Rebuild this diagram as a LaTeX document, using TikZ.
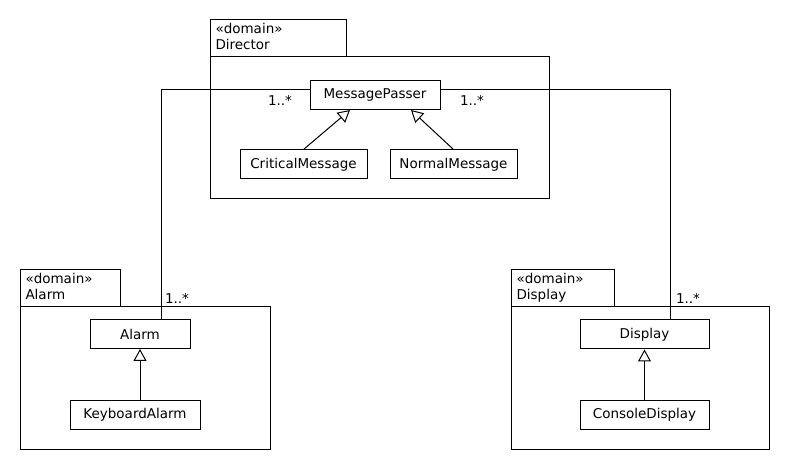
\documentclass[tikz,border=0pt]{standalone}
\usepackage{fontspec}
\setmainfont{DejaVu Sans}
\usetikzlibrary{arrows.meta,calc}
\tikzset{
	cls/.style={draw, line width=1pt, minimum height=29pt, inner sep=0pt, font=\fontsize{13.5}{15}\selectfont},
	pkglabel/.style={anchor=north west, align=left, inner sep=0pt, font=\fontsize{13.5}{15.5}\selectfont},
	mult/.style={inner sep=0pt, font=\fontsize{13.5}{15}\selectfont},
	inherit/.style={line width=1pt, -{Triangle[open, length=12pt, width=13pt]}},
}

\begin{document}
\begin{tikzpicture}[x=1pt, y=-1pt, line width=1pt]
			%%%%% START %%%%%
			\useasboundingbox (0, 0) rectangle (790, 470);
			
			% packages
			\draw (210, 20) rectangle (346, 57);
			\draw (210, 57) rectangle (549, 199);
			\node[pkglabel] (pdir) at (215, 23) {«domain»\\Director};
			
			\draw (20, 270) rectangle (120, 307);
			\draw (20, 307) rectangle (270, 449);
			\node[pkglabel] (palarm) at (25, 273) {«domain»\\Alarm};
			
			\draw (511, 270) rectangle (614, 307);
			\draw (511, 307) rectangle (769, 449);
			\node[pkglabel] (pdisp) at (516, 273) {«domain»\\Display};
			
			% classes
			\node[cls, minimum width=130pt] (msg) at (375, 95) {MessagePasser};
			\node[cls, minimum width=127pt] (crit) at (303.5, 164.5) {CriticalMessage};
			\node[cls, minimum width=127pt] (norm) at (453.5, 164.5) {NormalMessage};
			
			\node[cls, minimum width=100pt] (alarm) at (140, 334) {Alarm};
			\node[cls, minimum width=130pt] (kbd) at (135, 414.5) {KeyboardAlarm};
			
			\node[cls, minimum width=129pt] (disp) at (644.5, 334.5) {Display};
			\node[cls, minimum width=129pt] (cons) at (644.5, 414.5) {ConsoleDisplay};
			
			% generalisations
			\draw[inherit] (crit.north) -- ($(msg.south)+(-25, 0)$);
			\draw[inherit] (norm.north) -- ($(msg.south)+(36, 0)$);
			\draw[inherit] (kbd.north -| alarm.south) -- (alarm.south);
			\draw[inherit] (cons.north) -- (disp.south);
			
			% associations
			\draw ([yshift=5pt]msg.west) -| ([xshift=21pt]alarm.north);
			\draw ([yshift=5pt]msg.east) -| ([xshift=25.5pt]disp.north);
			
			\node[mult] (m1) at (280, 100) {1..*};
			\node[mult] (m2) at (472, 100) {1..*};
			\node[mult] (m3) at (177, 298) {1..*};
			\node[mult] (m4) at (688, 298) {1..*};
			%%%%% END %%%%%
		\end{tikzpicture}
\end{document}
